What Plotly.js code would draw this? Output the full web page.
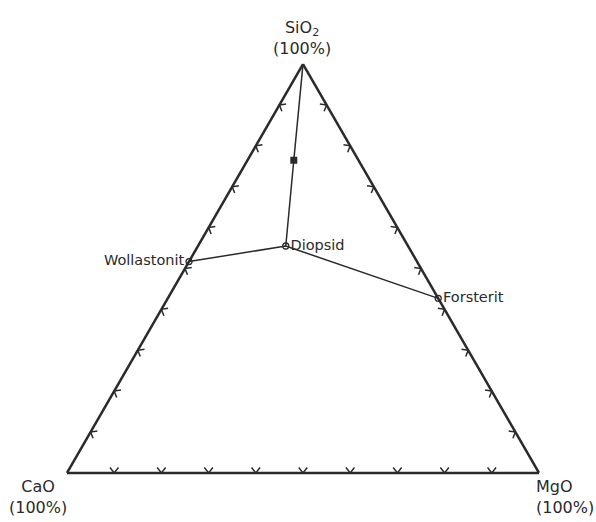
<!DOCTYPE html>
<html>
<head>
<meta charset="utf-8">
<script src="https://cdn.plot.ly/plotly-3.0.1.min.js"></script>
<style>html,body{margin:0;padding:0;background:#fff;}#chart{width:596px;height:522px;}</style>
</head>
<body>
<div id="chart"></div>
<script>
// Mineral compositions (weight %): a = SiO2, b = CaO, c = MgO
const minerals = ['Wollastonit', 'Diopsid', 'Forsterit'];
const mineralSiO2 = [51.7, 55.5, 42.7];
const mineralCaO  = [48.3, 25.9, 0];
const mineralMgO  = [0, 18.6, 57.3];

// Filled square point on the SiO2 – Diopsid join
const pointSiO2 = [76.5];
const pointCaO  = [13.7];
const pointMgO  = [9.8];

// Join SiO2 apex – square – Diopsid
const joinSiO2 = [100, 76.5, 55.5];
const joinCaO  = [0, 13.7, 25.9];
const joinMgO  = [0, 9.8, 18.6];

// Tick positions along each edge (%)
const tickVals = [10, 20, 30, 40, 50, 60, 70, 80, 90];

// Vertex labels
const vertexLabels = ['SiO<sub>2</sub><br>(100%)', 'CaO<br>(100%)', 'MgO<br>(100%)'];

const ink = '#2a2a2a';
const fontFam = 'DejaVu Sans, sans-serif';

// plot area in pixels
const L = 67, W = 472, T = 64, H = 409;
const px = x => (x - L) / W;
const py = y => (T + H - y) / H;

const traces = [];

// Join lines
traces.push({
  type: 'scatterternary', mode: 'lines',
  a: joinSiO2, b: joinCaO, c: joinMgO,
  line: {color: ink, width: 1.5}, hoverinfo: 'skip', showlegend: false
});
traces.push({
  type: 'scatterternary', mode: 'lines',
  a: mineralSiO2, b: mineralCaO, c: mineralMgO,
  line: {color: ink, width: 1.5}, hoverinfo: 'skip', showlegend: false
});

// Edge tick chevrons: vertex on the edge, two short arms pointing inward
const depth = 1.3, spread = 0.9; // in % units
const edges = [
  {v: t => [0, 100 - t, t],  n: [1, -0.5, -0.5], s: [0, -1, 1]},   // bottom (CaO–MgO)
  {v: t => [t, 100 - t, 0],  n: [-0.5, -0.5, 1], s: [1, -1, 0]},   // left (CaO–SiO2)
  {v: t => [t, 0, 100 - t],  n: [-0.5, 1, -0.5], s: [1, 0, -1]}    // right (MgO–SiO2)
];
const tkA = [], tkB = [], tkC = [];
edges.forEach(e => {
  tickVals.forEach(t => {
    const v = e.v(t);
    const p1 = v.map((x, i) => x + depth * e.n[i] + spread * e.s[i]);
    const p2 = v.map((x, i) => x + depth * e.n[i] - spread * e.s[i]);
    [p1, v, p2].forEach(p => { tkA.push(p[0]); tkB.push(p[1]); tkC.push(p[2]); });
    tkA.push(null); tkB.push(null); tkC.push(null);
  });
});
traces.push({
  type: 'scatterternary', mode: 'lines',
  a: tkA, b: tkB, c: tkC, connectgaps: false,
  line: {color: ink, width: 1.5}, hoverinfo: 'skip', showlegend: false
});

// Filled square point
traces.push({
  type: 'scatterternary', mode: 'markers',
  a: pointSiO2, b: pointCaO, c: pointMgO,
  marker: {symbol: 'square', size: 7, color: ink, line: {color: ink, width: 0}},
  showlegend: false
});

// Mineral points with labels
traces.push({
  type: 'scatterternary', mode: 'markers+text',
  a: mineralSiO2, b: mineralCaO, c: mineralMgO,
  text: minerals,
  textposition: ['middle left', 'middle right', 'middle right'],
  textfont: {family: fontFam, size: 14.5, color: ink},
  marker: {symbol: 'circle-open', size: 6, color: ink, line: {color: ink, width: 1.3}},
  showlegend: false, cliponaxis: false
});

const axisCommon = {
  showticklabels: false, ticks: '', showgrid: false,
  linecolor: ink, linewidth: 2.5, min: 0, title: {text: ''}
};

const layout = {
  width: 596, height: 522,
  margin: {l: L, r: 596 - L - W, t: T, b: 522 - T - H},
  paper_bgcolor: '#ffffff',
  font: {family: fontFam, color: ink},
  showlegend: false,
  ternary: {
    sum: 100,
    bgcolor: '#ffffff',
    aaxis: Object.assign({}, axisCommon),
    baxis: Object.assign({}, axisCommon),
    caxis: Object.assign({}, axisCommon)
  },
  annotations: [
    {text: vertexLabels[0], xref: 'paper', yref: 'paper', x: px(302), y: py(38),
     xanchor: 'center', yanchor: 'middle', align: 'center', showarrow: false,
     font: {family: fontFam, size: 16, color: ink}},
    {text: vertexLabels[1], xref: 'paper', yref: 'paper', x: px(38), y: py(497),
     xanchor: 'center', yanchor: 'middle', align: 'center', showarrow: false,
     font: {family: fontFam, size: 16, color: ink}},
    {text: vertexLabels[2], xref: 'paper', yref: 'paper', x: px(534), y: py(497),
     xanchor: 'left', yanchor: 'middle', align: 'left', showarrow: false,
     font: {family: fontFam, size: 16, color: ink}}
  ]
};

Plotly.newPlot('chart', traces, layout, {displayModeBar: false, staticPlot: true});
</script>
</body>
</html>
